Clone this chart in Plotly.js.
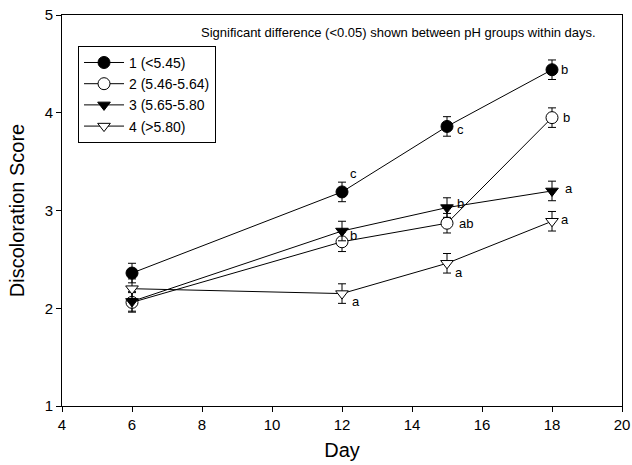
<!DOCTYPE html>
<html>
<head>
<meta charset="utf-8">
<script src="https://cdn.plot.ly/plotly-3.0.1.min.js"></script>
<style>html,body{margin:0;padding:0;background:#fff;}#chart{width:632px;height:465px;}</style>
</head>
<body>
<div id="chart"></div>
<script>
var days = [6, 12, 15, 18];
var seriesNames = ["1 (<5.45)", "2 (5.46-5.64)", "3 (5.65-5.80", "4 (>5.80)"];
var s1 = [2.36, 3.19, 3.86, 4.44];
var s2 = [2.06, 2.68, 2.87, 3.95];
var s3 = [2.07, 2.79, 3.03, 3.20];
var s4 = [2.20, 2.15, 2.46, 2.89];
var e1 = [0.10, 0.10, 0.10, 0.10];
var e2 = [0.10, 0.10, 0.10, 0.10];
var e3 = [0.10, 0.10, 0.10, 0.10];
var e4 = [0.10, 0.10, 0.10, 0.10];
var l1 = ["", "c", "c", "b"];
var l2 = ["", "", "ab", "b"];
var l3 = ["", "b", "b", "a"];
var l4 = ["", "a", "a", "a"];
var xTicks = [4, 6, 8, 10, 12, 14, 16, 18, 20];
var yTicks = [1, 2, 3, 4, 5];
var note = "Significant difference (<0.05) shown between pH groups within days.";

var FONT = "Liberation Sans, Arial, Helvetica, sans-serif";
var vals = [s1, s2, s3, s4];
var errs = [e1, e2, e3, e4];
var labs = [l1, l2, l3, l4];
var symbols = ["circle", "circle-open", "triangle-down", "triangle-down-open"];
var traces = vals.map(function (v, i) {
  var open = symbols[i].indexOf("open") >= 0;
  var tri = symbols[i].indexOf("triangle") >= 0;
  return {
    x: days, y: v, name: seriesNames[i], type: "scatter", mode: "lines+markers",
    line: {color: "#000", width: 1},
    marker: {symbol: open ? symbols[i].replace("-open", "") : symbols[i], size: tri ? 11 : 12,
             color: open ? "#fff" : "#000", line: {color: "#000", width: 1}},
    error_y: {type: "data", array: errs[i], visible: true, color: "#000", thickness: 1, width: 4}
  };
});

// label offsets (px): [right of marker centre, down]
var offs = [
  [[0,0],[6,-18],[8,3],[7,0]],
  [[0,0],[0,0],[10,0],[9,0]],
  [[0,0],[6,4],[8,-4],[11,-2]],
  [[0,0],[8,8],[6,9],[7,-2]]
];
var annotations = [];
labs.forEach(function (L, i) {
  L.forEach(function (t, j) {
    if (!t) return;
    annotations.push({x: days[j], y: vals[i][j], xref: "x", yref: "y", text: t, showarrow: false,
      xanchor: "left", yanchor: "middle", xshift: offs[i][j][0], yshift: -offs[i][j][1],
      font: {family: FONT, size: 13, color: "#000"}});
  });
});
annotations.push({x: 0.958, y: 0.954, xref: "paper", yref: "paper", text: note, showarrow: false,
  xanchor: "right", yanchor: "middle",
  font: {family: FONT, size: 13, color: "#000"}});

var layout = {
  width: 632, height: 465,
  margin: {l: 62, r: 10, t: 15, b: 59},
  paper_bgcolor: "#fff", plot_bgcolor: "#fff",
  font: {family: FONT, color: "#000", size: 15},
  showlegend: true,
  legend: {x: 0.0286, y: 0.921, xanchor: "left", yanchor: "top", bgcolor: "#fff",
           bordercolor: "#000", borderwidth: 1, font: {size: 14}, itemwidth: 40, tracegroupgap: 0},
  xaxis: {range: [4, 20], tickvals: xTicks, ticktext: xTicks.map(String), ticks: "outside",
          ticklen: 5, tickcolor: "#000", showline: true, linecolor: "#000", linewidth: 1,
          mirror: true, showgrid: false, zeroline: false, tickfont: {size: 15},
          title: {text: "Day", font: {size: 20}, standoff: 10}},
  yaxis: {range: [1, 5], tickvals: yTicks, ticktext: yTicks.map(String), ticks: "outside",
          ticklen: 5, tickcolor: "#000", showline: true, linecolor: "#000", linewidth: 1,
          mirror: true, showgrid: false, zeroline: false, tickfont: {size: 15},
          title: {text: "Discoloration Score", font: {size: 20}, standoff: 14}},
  annotations: annotations
};
Plotly.newPlot("chart", traces, layout, {displayModeBar: false, staticPlot: true});
</script>
</body>
</html>
